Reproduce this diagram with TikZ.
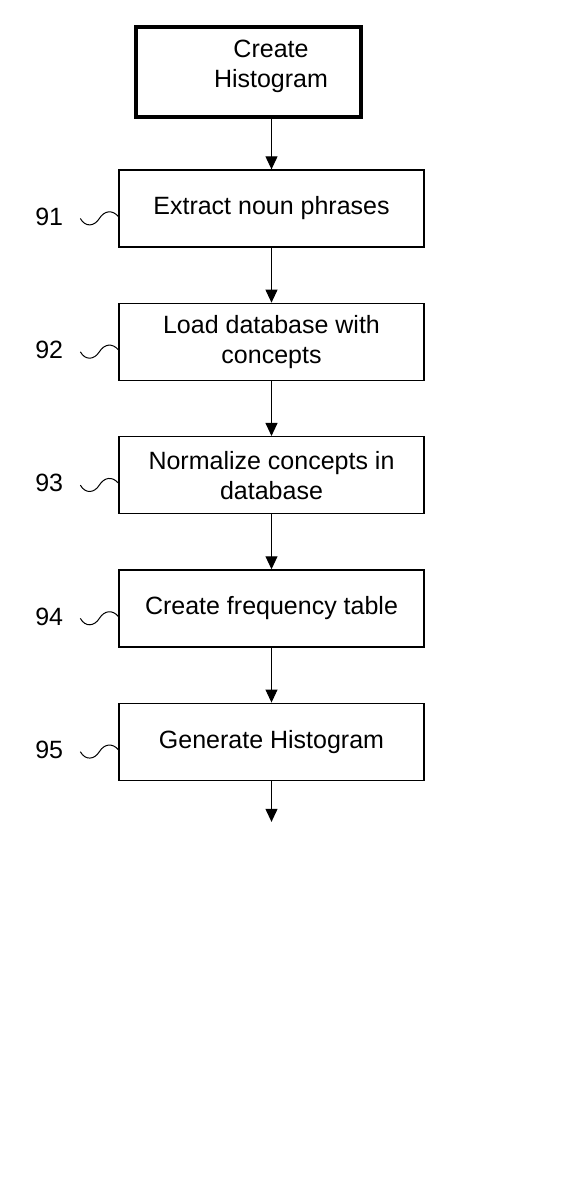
\documentclass[tikz,border=0pt]{standalone}
\usepackage{fontspec}
\setmainfont{Liberation Sans}
\usetikzlibrary{positioning}
\usetikzlibrary{calc}
\usetikzlibrary{arrows.meta}

\tikzset{
	stepbox/.style={draw, line width=1.3pt, minimum width=305pt, minimum height=77pt, align=center, inner sep=0pt},
	flow/.style={line width=1pt, -{Triangle[length=13pt, width=12pt]}},
	refno/.style={inner sep=0pt},
	wiggle/.style={line width=1pt}
}

\begin{document}
\begin{tikzpicture}[x=1pt, y=1pt, font=\fontsize{25}{30}\selectfont]
				\useasboundingbox (0,0) rectangle (574,-1187);

				% nodes
				\node[draw, line width=3.2pt, minimum width=225pt, minimum height=90pt] (start) at (248.5,-72) {};
				\node[align=center, inner sep=0pt] (starttext) at ([xshift=22.5pt, yshift=6pt]start.center) {Create\\Histogram};

				\node[stepbox] (b91) at (271.5,-208.5) {Extract noun phrases};
				\node[stepbox, below = 55pt of b91] (b92) {Load database with\\concepts};
				\node[stepbox, below = 55pt of b92] (b93) {Normalize concepts in\\database};
				\node[stepbox, below = 55pt of b93] (b94) {Create frequency table};
				\node[stepbox, below = 55pt of b94] (b95) {Generate Histogram};
				\coordinate[below = 41pt of b95] (stop);

				\node[refno, left = 55pt of b91, yshift=-8pt] (l91) {91};
				\node[refno, left = 55pt of b92, yshift=-8pt] (l92) {92};
				\node[refno, left = 55pt of b93, yshift=-8pt] (l93) {93};
				\node[refno, left = 55pt of b94, yshift=-8pt] (l94) {94};
				\node[refno, left = 55pt of b95, yshift=-8pt] (l95) {95};

				% edges
				\draw[flow] (b91.north |- start.south) -- (b91.north);
				\draw[flow] (b91.south) -- (b92.north);
				\draw[flow] (b92.south) -- (b93.north);
				\draw[flow] (b93.south) -- (b94.north);
				\draw[flow] (b94.south) -- (b95.north);
				\draw[flow] (b95.south) -- (stop);

				% wiggles from numbers to boxes
				\draw[wiggle] ([xshift=-38pt, yshift=-10pt]b91.west) .. controls +(5,-9) and +(-5,-8) .. ++(19,0)
					.. controls +(5,8) and +(-6,7) .. ([yshift=-8pt]b91.west);
				\draw[wiggle] ([xshift=-38pt, yshift=-10pt]b92.west) .. controls +(5,-9) and +(-5,-8) .. ++(19,0)
					.. controls +(5,8) and +(-6,7) .. ([yshift=-8pt]b92.west);
				\draw[wiggle] ([xshift=-38pt, yshift=-10pt]b93.west) .. controls +(5,-9) and +(-5,-8) .. ++(19,0)
					.. controls +(5,8) and +(-6,7) .. ([yshift=-8pt]b93.west);
				\draw[wiggle] ([xshift=-38pt, yshift=-10pt]b94.west) .. controls +(5,-9) and +(-5,-8) .. ++(19,0)
					.. controls +(5,8) and +(-6,7) .. ([yshift=-8pt]b94.west);
				\draw[wiggle] ([xshift=-38pt, yshift=-10pt]b95.west) .. controls +(5,-9) and +(-5,-8) .. ++(19,0)
					.. controls +(5,8) and +(-6,7) .. ([yshift=-8pt]b95.west);
			\end{tikzpicture}
\end{document}
